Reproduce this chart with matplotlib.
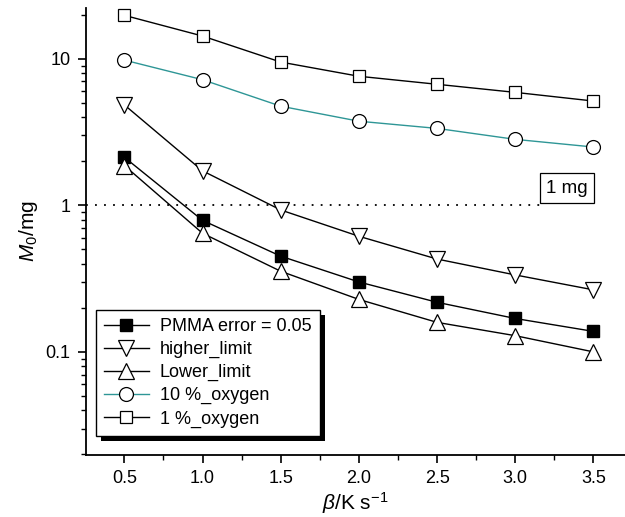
import matplotlib
matplotlib.use("Agg")
import matplotlib.pyplot as plt
from matplotlib.patches import Rectangle
from matplotlib.ticker import LogLocator, NullFormatter, MultipleLocator, FixedLocator, FixedFormatter

plt.rcParams['font.family'] = ['Liberation Sans', 'DejaVu Sans']
plt.rcParams['mathtext.fontset'] = 'custom'
plt.rcParams['mathtext.rm'] = 'Liberation Sans'
plt.rcParams['mathtext.it'] = 'Liberation Sans:italic'

beta = [0.5, 1.0, 1.5, 2.0, 2.5, 3.0, 3.5]
pmma = [2.13, 0.79, 0.45, 0.30, 0.218, 0.169, 0.138]
higher = [4.85, 1.72, 0.93, 0.615, 0.43, 0.335, 0.265]
lower = [1.87, 0.645, 0.355, 0.228, 0.159, 0.129, 0.100]
oxy10 = [9.8, 7.2, 4.75, 3.75, 3.35, 2.82, 2.50]
oxy1 = [19.8, 14.3, 9.5, 7.6, 6.7, 5.9, 5.15]
labels = ["PMMA error = 0.05", "higher_limit", "Lower_limit", "10 %_oxygen", "1 %_oxygen"]
xticks = [0.5, 1.0, 1.5, 2.0, 2.5, 3.0, 3.5]
yticks = [0.1, 1, 10]
ytick_labels = ["0.1", "1", "10"]

fig = plt.figure(figsize=(6.25, 5.17), dpi=100)
ax = fig.add_axes([0.1376, 0.12, 0.862, 0.865])

teal = "#2e9696"
lw = 1.0
ax.plot(beta, pmma, '-', color='black', lw=lw, marker='s', ms=9, mfc='black', mec='black', label=labels[0], zorder=3)
ax.plot(beta, higher, '-', color='black', lw=lw, marker='v', ms=11, mfc='white', mec='black', mew=0.9, label=labels[1], zorder=3)
ax.plot(beta, lower, '-', color='black', lw=lw, marker='^', ms=11, mfc='white', mec='black', mew=0.9, label=labels[2], zorder=3)
ax.plot(beta, oxy10, '-', color=teal, lw=lw, marker='o', ms=10, mfc='white', mec='black', mew=0.9, label=labels[3], zorder=3)
ax.plot(beta, oxy1, '-', color='black', lw=lw, marker='s', ms=9, mfc='white', mec='black', mew=0.9, label=labels[4], zorder=3)

ax.set_yscale('log')
ax.set_xlim(0.255, 3.70)
ax.set_ylim(0.0198, 22.3)

# 1 mg reference line
ax.plot([0.255, 3.16], [1, 1], linestyle=(0, (1, 4)), color='black', lw=1.3, zorder=2)
ax.text(3.33, 1.31, "1 mg", fontsize=13.5, ha='center', va='center',
        bbox=dict(boxstyle='square,pad=0.35', fc='white', ec='black', lw=0.9))

ax.spines['top'].set_visible(False)
ax.spines['right'].set_visible(False)
ax.spines['left'].set_linewidth(1.3)
ax.spines['bottom'].set_linewidth(1.3)

ax.xaxis.set_major_locator(FixedLocator(xticks))
ax.xaxis.set_minor_locator(MultipleLocator(0.25))
ax.set_xticklabels([f"{v:.1f}" for v in xticks])
ax.yaxis.set_major_locator(FixedLocator(yticks))
ax.yaxis.set_major_formatter(FixedFormatter(ytick_labels))
ax.yaxis.set_minor_locator(LogLocator(base=10, subs=range(2, 10)))
ax.yaxis.set_minor_formatter(NullFormatter())
ax.tick_params(axis='both', which='major', direction='out', length=6, width=1.2, labelsize=13, pad=5)
ax.tick_params(axis='both', which='minor', direction='out', length=3.8, width=1.0)

ax.set_xlabel(r"$\it{\beta}$/K s$^{\mathregular{-1}}$", fontsize=15, labelpad=2)
ax.set_ylabel(r"$\it{M}$$_{\mathregular{0}}$/mg", fontsize=15, labelpad=4)

leg = ax.legend(loc='lower left', bbox_to_anchor=(0.018, 0.043), borderaxespad=0,
                fontsize=13, frameon=True, fancybox=False, edgecolor='black',
                framealpha=1, handlelength=2.5, handletextpad=0.6, labelspacing=0.33,
                borderpad=0.45)
leg.get_frame().set_linewidth(1.0)

fig.canvas.draw()
bb = leg.get_window_extent()
shadow = Rectangle((bb.x0 + 5, bb.y0 - 5), bb.width, bb.height, transform=None,
                   facecolor='black', edgecolor='none', zorder=4)
fig.add_artist(shadow)
leg.remove()
fig.add_artist(leg)
leg.set_zorder(6)

fig.savefig("out.png", dpi=100)
